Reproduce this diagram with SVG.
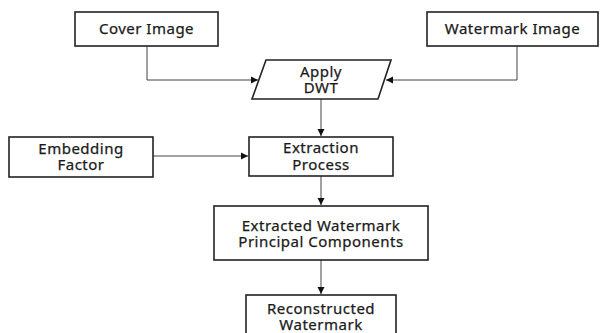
<svg xmlns="http://www.w3.org/2000/svg" width="601" height="333" viewBox="0 0 601 333">
<style>
.box{fill:#fff;stroke:#222;stroke-width:1.6}
.t{font-family:"Noto Sans","Open Sans",sans-serif;font-size:15px;letter-spacing:0.5px;fill:#1a1a1a;stroke:#1a1a1a;stroke-width:0.25;text-anchor:middle}
.c{fill:none;stroke:#444;stroke-width:1}
</style>
<defs>
<marker id="ah" markerWidth="8" markerHeight="8" refX="7" refY="4" orient="auto" markerUnits="userSpaceOnUse">
<path d="M0,0.5 L7,4 L0,7.5 Z" fill="#111"/>
</marker>
</defs>
<rect width="601" height="333" fill="#fff"/>
<g id="connectors">
<path class="c" d="M147,46 V80 H258" marker-end="url(#ah)"/>
<path class="c" d="M517,46 V80 H386" marker-end="url(#ah)"/>
<path class="c" d="M321,99 V136" marker-end="url(#ah)"/>
<path class="c" d="M153,156 H248" marker-end="url(#ah)"/>
<path class="c" d="M321,176 V205" marker-end="url(#ah)"/>
<path class="c" d="M321,260 V294" marker-end="url(#ah)"/>
</g>
<g id="cover">
<rect class="box" x="75" y="12" width="143" height="34"/>
<text class="t" x="146.5" y="34">Cover Image</text>
</g>
<g id="watermark">
<rect class="box" x="427" y="12" width="171" height="34"/>
<text class="t" x="512.5" y="34">Watermark Image</text>
</g>
<g id="dwt">
<polygon class="box" points="266,60 391,60 378,99 252,99"/>
<text class="t" x="321" y="77">Apply</text>
<text class="t" x="321" y="93">DWT</text>
</g>
<g id="embedding">
<rect class="box" x="9" y="137" width="144" height="40"/>
<text class="t" x="81" y="154">Embedding</text>
<text class="t" x="81" y="170">Factor</text>
</g>
<g id="extraction">
<rect class="box" x="249" y="137" width="144" height="39"/>
<text class="t" x="321" y="153">Extraction</text>
<text class="t" x="321" y="170">Process</text>
</g>
<g id="extracted">
<rect class="box" x="214" y="206" width="214" height="54"/>
<text class="t" x="321" y="231">Extracted Watermark</text>
<text class="t" x="321" y="247">Principal Components</text>
</g>
<g id="reconstructed">
<rect class="box" x="246" y="295" width="150" height="50"/>
<text class="t" x="321" y="314">Reconstructed</text>
<text class="t" x="321" y="330">Watermark</text>
</g>
</svg>
